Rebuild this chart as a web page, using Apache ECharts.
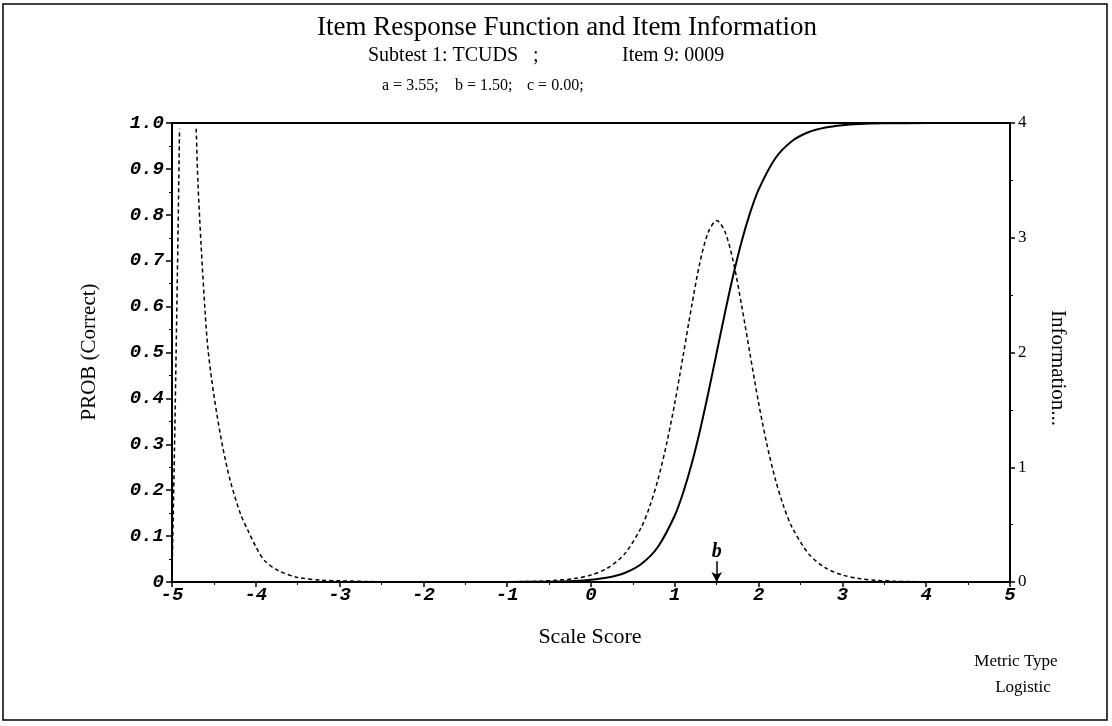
<!DOCTYPE html>
<html>
<head>
<meta charset="utf-8">
<script src="https://cdn.jsdelivr.net/npm/echarts@6/dist/echarts.min.js"></script>
<style>
html,body{margin:0;padding:0;background:#fff;}
#chart{width:1112px;height:726px;}
</style>
</head>
<body>
<div id="chart"></div>
<script>
// ---- data ----
const xTicks = [-5,-4,-3,-2,-1,0,1,2,3,4,5];
const probTickLabels = ['0','0.1','0.2','0.3','0.4','0.5','0.6','0.7','0.8','0.9','1.0'];
const infoTickLabels = ['0','1','2','3','4'];

// Item response function (solid)
const probTheta = [-5,-4,-3,-2,-1,-0.5,-0.2,0,0.2,0.4,0.6,0.8,1.0,1.1,1.2,1.3,1.4,1.5,1.6,1.7,1.8,1.9,2.0,2.2,2.4,2.6,2.8,3.0,3.2,3.5,4,5];
const probValues = [0,0,0,0,0.0001,0.0008,0.0024,0.0049,0.0098,0.0197,0.0393,0.0769,0.1449,0.1947,0.2563,0.3296,0.4122,0.5,0.5878,0.6704,0.7437,0.8053,0.855,0.9231,0.9607,0.9803,0.9902,0.9951,0.9976,0.9992,0.9999,1.0];

// Item information (dotted), null = leaves plot at top
const infoTheta = [-5,-4.97,-4.95,-4.931,-4.91,-4.8,-4.711,-4.691,-4.651,-4.603,-4.572,-4.524,-4.464,-4.393,-4.304,-4.181,-4.094,-3.994,-3.894,-3.735,-3.5,-3.2,-3.0,-2.5,-2,-1.5,-1,-0.6,-0.4,-0.2,0,0.2,0.4,0.6,0.7,0.8,0.9,1.0,1.1,1.2,1.3,1.4,1.5,1.6,1.7,1.8,1.9,2.0,2.1,2.2,2.3,2.4,2.6,2.8,3.0,3.2,3.4,3.6,3.8,4.0,4.5,5];
const infoValues = [0.04,1.17,2.04,2.91,3.95,null,3.95,3.49,2.91,2.33,2.04,1.75,1.46,1.17,0.88,0.59,0.45,0.30,0.185,0.10,0.04,0.015,0.01,0.002,0,0,0.002,0.007,0.015,0.03,0.061,0.122,0.243,0.476,0.657,0.895,1.197,1.56,1.976,2.40,2.785,3.05,3.15,3.05,2.785,2.40,1.976,1.56,1.197,0.895,0.657,0.476,0.243,0.122,0.061,0.03,0.015,0.007,0.004,0.002,0,0];

const bValue = 1.5;

const probData = probTheta.map((t,i)=>[t, probValues[i]]);
const infoData = infoTheta.map((t,i)=>[t, infoValues[i] === null ? '-' : infoValues[i]]);

const chart = echarts.init(document.getElementById('chart'), null, {renderer:'canvas'});
const serif = '"Liberation Serif", "Times New Roman", serif';
const mono = '"Liberation Mono", "Courier New", monospace';

chart.setOption({
  animation:false,
  backgroundColor:'#fff',
  grid:{left:172,right:102,top:123,bottom:144,show:true,borderColor:'#000',borderWidth:2,backgroundColor:'transparent'},
  xAxis:{
    type:'value',min:-5,max:5,interval:1,
    axisLine:{show:true,onZero:false,lineStyle:{color:'#000',width:2}},
    axisTick:{show:true,length:5,lineStyle:{color:'#000',width:1.5}},
    minorTick:{show:true,splitNumber:2,length:3,lineStyle:{color:'#000'}},
    splitLine:{show:false},
    axisLabel:{margin:4,color:'#000',fontFamily:mono,fontStyle:'italic',fontWeight:'bold',fontSize:19,
      formatter:v=>{const i=xTicks.indexOf(v);return i<0?'':String(xTicks[i]);}}
  },
  yAxis:[{
    type:'value',min:0,max:1,interval:0.1,position:'left',
    axisLine:{show:true,onZero:false,lineStyle:{color:'#000',width:2}},
    axisTick:{show:true,length:6,lineStyle:{color:'#000',width:1.5}},
    minorTick:{show:true,splitNumber:2,length:3,lineStyle:{color:'#000'}},
    splitLine:{show:false},
    axisLabel:{margin:8,color:'#000',fontFamily:mono,fontStyle:'italic',fontWeight:'bold',fontSize:19,
      formatter:v=>probTickLabels[Math.round(v*10)]}
  },{
    type:'value',min:0,max:4,interval:1,position:'right',
    axisLine:{show:true,onZero:false,lineStyle:{color:'#000',width:2}},
    axisTick:{show:true,length:5,lineStyle:{color:'#000',width:1.5}},
    minorTick:{show:true,splitNumber:2,length:3,lineStyle:{color:'#000'}},
    splitLine:{show:false},
    axisLabel:{margin:8,color:'#000',fontFamily:serif,fontSize:17,
      formatter:v=>infoTickLabels[Math.round(v)]}
  }],
  series:[{
    type:'line',name:'IRF',yAxisIndex:0,data:probData,smooth:0.3,showSymbol:false,
    lineStyle:{color:'#000',width:2},
    markLine:{
      silent:true,symbol:['none','arrow'],symbolSize:[8,10],
      lineStyle:{color:'#000',type:'solid',width:1.5},
      label:{show:true,position:'start',formatter:'b',color:'#000',fontFamily:serif,fontStyle:'italic',fontWeight:'bold',fontSize:20,distance:0},
      data:[[{coord:[bValue,0.045]},{coord:[bValue,0]}]]
    }
  },{
    type:'line',name:'Information',yAxisIndex:1,data:infoData,smooth:0.3,showSymbol:false,connectNulls:false,clip:true,
    lineStyle:{color:'#000',width:1.5,type:[4,3]}
  }],
  graphic:[
    {type:'rect',shape:{x:3,y:4,width:1104,height:716},style:{fill:'none',stroke:'#000',lineWidth:1.5},silent:true},
    {type:'text',x:567,y:28,style:{text:'Item Response Function and Item Information',font:'27px '+serif,fill:'#000',textAlign:'center',textVerticalAlign:'middle'}},
    {type:'text',x:368,y:56,style:{text:'Subtest 1: TCUDS   ;',font:'20px '+serif,fill:'#000',textAlign:'left',textVerticalAlign:'middle'}},
    {type:'text',x:622,y:56,style:{text:'Item 9: 0009',font:'20px '+serif,fill:'#000',textAlign:'left',textVerticalAlign:'middle'}},
    {type:'text',x:382,y:86,style:{text:'a = 3.55;',font:'16px '+serif,fill:'#000',textAlign:'left',textVerticalAlign:'middle'}},
    {type:'text',x:455,y:86,style:{text:'b = 1.50;',font:'16px '+serif,fill:'#000',textAlign:'left',textVerticalAlign:'middle'}},
    {type:'text',x:527,y:86,style:{text:'c = 0.00;',font:'16px '+serif,fill:'#000',textAlign:'left',textVerticalAlign:'middle'}},
    {type:'text',x:590,y:637,style:{text:'Scale Score',font:'22px '+serif,fill:'#000',textAlign:'center',textVerticalAlign:'middle'}},
    {type:'text',x:89,y:352,rotation:Math.PI/2,style:{text:'PROB (Correct)',font:'21px '+serif,fill:'#000',textAlign:'center',textVerticalAlign:'middle'}},
    {type:'text',x:1058,y:368,rotation:-Math.PI/2,style:{text:'Information...',font:'21px '+serif,fill:'#000',textAlign:'center',textVerticalAlign:'middle'}},
    {type:'text',x:1016,y:662,style:{text:'Metric Type',font:'17px '+serif,fill:'#000',textAlign:'center',textVerticalAlign:'middle'}},
    {type:'text',x:1023,y:688,style:{text:'Logistic',font:'17px '+serif,fill:'#000',textAlign:'center',textVerticalAlign:'middle'}}
  ]
});
</script>
</body>
</html>
